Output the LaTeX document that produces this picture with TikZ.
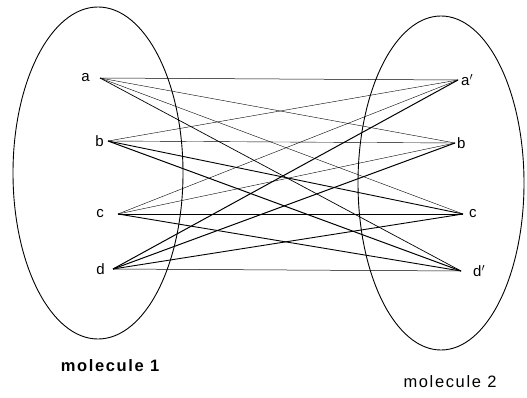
\documentclass[tikz,border=0pt]{standalone}
\usepackage{fontspec}
\setmainfont{Liberation Sans}
\usetikzlibrary{positioning}

\begin{document}
\begin{tikzpicture}[x=1pt, y=-1pt,
    mol/.style={draw, line width=0.9pt},
    atom/.style={font=\fontsize{15}{17}\selectfont, inner sep=0pt},
    molname/.style={font=\fontsize{16.5}{19}\selectfont\addfontfeatures{LetterSpace=10}, inner sep=0pt}]
    \useasboundingbox (0,0) rectangle (527,398);
    % the two molecules
    \draw[mol] (98,173) ellipse [x radius=85, y radius=166];
    \draw[mol] (441,183) ellipse [x radius=83, y radius=167];
    % bond ends
    \coordinate (la) at (100,78);
    \coordinate (lb) at (108,141);
    \coordinate (lc) at (118,214);
    \coordinate (ld) at (113,269);
    \coordinate (ra) at (458,80);
    \coordinate (rb) at (455,143);
    \coordinate (rc) at (463,214);
    \coordinate (rd) at (461,271);
    % atoms
    \node[atom, left=10pt of la] (na) {a};
    \node[atom, left=4pt of lb] (nb) {b};
    \node[atom, left=14pt of lc] (nc) {c};
    \node[atom, left=8pt of ld] (nd) {d};
    \node[atom, right=3pt of ra] (nra) {a$'$};
    \node[atom, right=2pt of rb] (nrb) {b};
    \node[atom, right=6pt of rc] (nrc) {c};
    \node[atom, right=12pt of rd] (nrd) {d$'$};
    % all pairs
    \foreach \s/\t/\w in {a/a/0.5,a/b/0.4,a/c/0.4,a/d/0.7,
                          b/a/0.4,b/b/0.4,b/c/0.9,b/d/1.0,
                          c/a/0.4,c/b/0.4,c/c/0.4,c/d/0.9,
                          d/a/1.0,d/b/1.0,d/c/0.9,d/d/0.5} {
      \draw[line width=\w pt] (l\s) -- (r\t);
    }
    \node[molname] (m1) at (110,366) {\bfseries molecule 1};
    \node[molname] (m2) at (450,382) {molecule 2};
\end{tikzpicture}
\end{document}
